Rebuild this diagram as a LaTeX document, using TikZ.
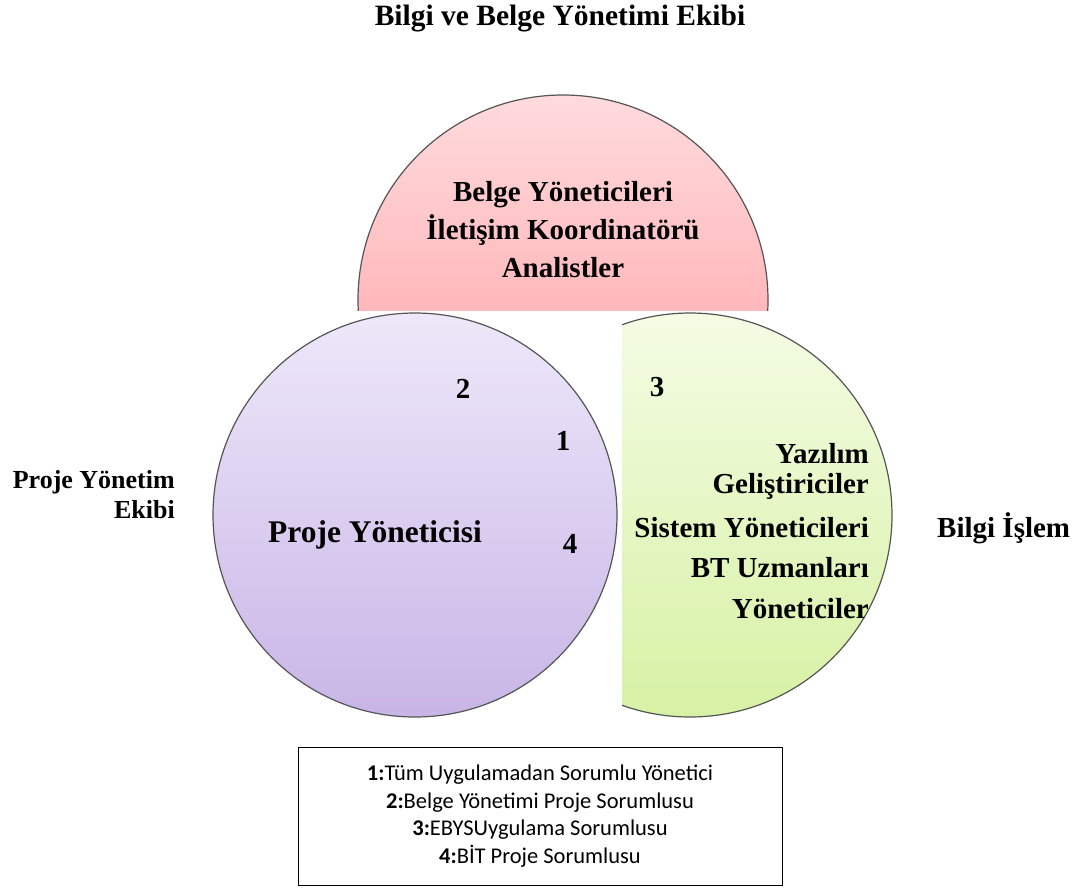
\documentclass[tikz,border=0pt]{standalone}
\usepackage{fontspec}
\setmainfont{Liberation Serif}
\newfontfamily\keyfont{Carlito}
\usetikzlibrary{positioning}
\definecolor{rim}{HTML}{555555}
\definecolor{pinktop}{HTML}{FFDBDE}
\definecolor{pinkbot}{HTML}{FFB8BB}
\definecolor{lilactop}{HTML}{EEE8FA}
\definecolor{lilacbot}{HTML}{C8B5E6}
\definecolor{limetop}{HTML}{F4FCE4}
\definecolor{limebot}{HTML}{D7F1A4}

\begin{document}
\begin{tikzpicture}[x=1pt, y=-1pt,
  head/.style={font=\fontsize{29.5}{36}\selectfont\bfseries, inner sep=0pt, anchor=base},
  role/.style={font=\fontsize{29}{36}\selectfont\bfseries, inner sep=0pt, anchor=base},
  roler/.style={role, anchor=base east},
  num/.style={font=\fontsize{29}{36}\selectfont\bfseries, inner sep=0pt, anchor=base},
  edge/.style={draw=rim, line width=1.2pt}
]
\useasboundingbox (0,0) rectangle (1075,895);

% top circle, cut flat at the bottom
\begin{scope}
  \clip (330,80) rectangle (800,310);
  \begin{scope}
    \clip (563,300) circle (205);
    \shade[top color=pinktop, bottom color=pinkbot] (330,95) rectangle (800,310);
  \end{scope}
  \draw[edge] (563,300) circle (205);
\end{scope}

% left circle
\shadedraw[edge, top color=lilactop, bottom color=lilacbot] (415,515) circle (202);

% right circle, cut flat at the left
\begin{scope}
  \clip (622,300) rectangle (920,730);
  \begin{scope}
    \clip (690,515) circle (202);
    \shade[top color=limetop, bottom color=limebot] (622,313) rectangle (892,717);
  \end{scope}
  \draw[edge] (690,515) circle (202);
\end{scope}

\node[head] (title) at (560,25) {Bilgi ve Belge Yönetimi Ekibi};

\node[role] (bg1) at (563,201) {Belge Yöneticileri};
\node[role] (bg2) at (563,239) {İletişim Koordinatörü};
\node[role] (bg3) at (563,277) {Analistler};

\node[roler, font=\fontsize{26}{32}\selectfont\bfseries] (pyt) at (175,488) {Proje Yönetim};
\node[roler, font=\fontsize{26}{32}\selectfont\bfseries] (pye) at (175,518) {Ekibi};
\node[role, font=\fontsize{31.5}{38}\selectfont\bfseries] (py) at (375,542) {Proje Yöneticisi};

\node[num] (n2) at (463,398) {2};
\node[num] (n1) at (563,450) {1};
\node[num] (n4) at (570,553) {4};
\node[num] (n3) at (657,396) {3};

\node[roler] (bi1) at (869,463) {Yazılım};
\node[roler] (bi2) at (869,493) {Geliştiriciler};
\node[roler] (bi3) at (869,537) {Sistem Yöneticileri};
\node[roler] (bi4) at (869,577) {BT Uzmanları};
\node[roler] (bi5) at (869,618) {Yöneticiler};
\node[role, anchor=base west] (bis) at (937,537) {Bilgi İşlem};

\node[draw, line width=0.9pt, minimum width=484pt, minimum height=138pt, align=center,
  font=\keyfont\fontsize{22.5}{27.7}\selectfont] (key) at (540,816)
  {\textbf{1:}Tüm Uygulamadan Sorumlu Yönetici\\
   \textbf{2:}Belge Yönetimi Proje Sorumlusu\\
   \textbf{3:}EBYSUygulama Sorumlusu\\
   \textbf{4:}BİT Proje Sorumlusu};
\end{tikzpicture}
\end{document}
